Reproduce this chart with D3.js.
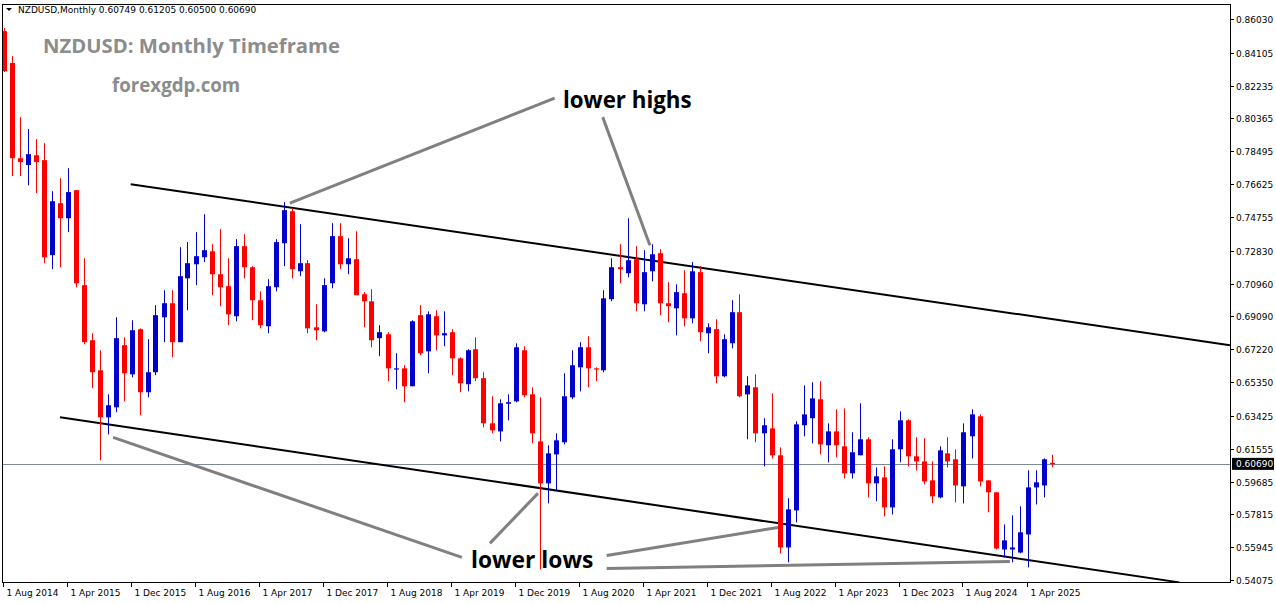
<!DOCTYPE html>
<html>
<head>
<meta charset="utf-8">
<script src="https://cdn.jsdelivr.net/npm/d3@7"></script>
<style>
  body { margin: 0; background: #fff; }
  svg { display: block; font-family: "DejaVu Sans", sans-serif; }
</style>
</head>
<body>
<div id="chart"></div>
<script>
// Monthly candles, Aug 2014 .. Jul 2025 (index 0 = Aug 2014)
const opens = [.8534,.8352,.7810,.7771,.7827,.7799,.7258,.7554,.7468,.7628,.7087,.6773,.6602,.6334,.6391,.6745,.6579,.6836,.6477,.6591,
  .6904,.6984,.6762,.7126,.7206,.7246,.7280,.7149,.7081,.6910,.7309,.7189,.7001,.6853,.7075,.7326,.7508,.7166,.7212,.6847,
  .6824,.7098,.7366,.7206,.7235,.7035,.6995,.6785,.6807,.6608,.6613,.6511,.6916,.6710,.6910,.6801,.6819,.6670,.6523,.6722,
  .6557,.6300,.6254,.6411,.6425,.6716,.6465,.6197,.5958,.6123,.6192,.6448,.6619,.6733,.6613,.6602,.7007,.7189,.7155,.7235,
  .6978,.7166,.7269,.6984,.6955,.7041,.6898,.7161,.6813,.6836,.6568,.6756,.6933,.6465,.6505,.6243,.6271,.6118,.5593,.5804,
  .6289,.6329,.6437,.6175,.6254,.6169,.6015,.6118,.6209,.5958,.5992,.5821,.6152,.6317,.6112,.6083,.5975,.5878,.6129,.6095,
  .5941,.6226,.6340,.5975,.5907,.5581,.5581,.5564,.5667,.5935,.5946,.60749];
const highs = [.8551,.8392,.8044,.7976,.7919,.7896,.7622,.7696,.7753,.7628,.7240,.6813,.6716,.6465,.6904,.6790,.6887,.6841,.6779,.6973,
  .7058,.7058,.7303,.7332,.7389,.7491,.7320,.7406,.7240,.7349,.7377,.7195,.7052,.7121,.7349,.7560,.7525,.7434,.7229,.6978,
  .7126,.7440,.7440,.7354,.7394,.7047,.7064,.6859,.6819,.6699,.6631,.6887,.6973,.6938,.6944,.6938,.6836,.6676,.6722,.6790,
  .6591,.6454,.6437,.6465,.6756,.6739,.6505,.6448,.6175,.6243,.6585,.6716,.6762,.6796,.6619,.7058,.7240,.7320,.7468,.7309,
  .7286,.7320,.7292,.7104,.7092,.7172,.7218,.7195,.6870,.6893,.6807,.7001,.7035,.6568,.6579,.6329,.6471,.6163,.5873,.6311,
  .6516,.6534,.6540,.6300,.6380,.6385,.6249,.6414,.6220,.6049,.6055,.6209,.6368,.6323,.6220,.6215,.6083,.6169,.6220,.6152,
  .6300,.6380,.6351,.5975,.5907,.5724,.5776,.5827,.6032,.6032,.6100,.61205];
const lows = [.8301,.7708,.7708,.7656,.7611,.7212,.7178,.7189,.7389,.7075,.6750,.6500,.6089,.6237,.6363,.6425,.6562,.6346,.6448,.6574,
  .6762,.6676,.6762,.6944,.7087,.7218,.7030,.6967,.6859,.6881,.7126,.6887,.6841,.6813,.7052,.7195,.7126,.7138,.6813,.6773,
  .6819,.7069,.7178,.7149,.7030,.6847,.6733,.6682,.6540,.6494,.6420,.6511,.6688,.6585,.6716,.6739,.6574,.6477,.6482,.6540,
  .6277,.6243,.6197,.6317,.6420,.6448,.6186,.5468,.5844,.5918,.6180,.6437,.6482,.6505,.6540,.6591,.6995,.7098,.7132,.6938,
  .6938,.7109,.6916,.6876,.6801,.6853,.6870,.6767,.6699,.6528,.6562,.6727,.6448,.6209,.6192,.6055,.6100,.5559,.5508,.5736,
  .6226,.6186,.6123,.6078,.6106,.5986,.5986,.6118,.5878,.5856,.5770,.5781,.6078,.6055,.6032,.5952,.5844,.5873,.6049,.5850,
  .5844,.6100,.5941,.5793,.5581,.5536,.5508,.5559,.5479,.5838,.5878,.6050];
const closes = [.8306,.7810,.7788,.7833,.7788,.7246,.7565,.7468,.7617,.7098,.6762,.6591,.6334,.6403,.6785,.6585,.6830,.6477,.6591,.6916,
  .6984,.6762,.7138,.7212,.7252,.7286,.7149,.7075,.6921,.7309,.7189,.7001,.6859,.7081,.7332,.7514,.7178,.7212,.6841,.6830,
  .7087,.7366,.7206,.7240,.7030,.6995,.6773,.6819,.6613,.6613,.6511,.6881,.6699,.6921,.6801,.6813,.6670,.6528,.6716,.6557,
  .6300,.6260,.6414,.6420,.6733,.6460,.6243,.5958,.6129,.6203,.6454,.6631,.6733,.6613,.6608,.7012,.7189,.7178,.7229,.6984,
  .7161,.7263,.6984,.6967,.7047,.6898,.7166,.6819,.6847,.6568,.6779,.6933,.6454,.6516,.6243,.6289,.6118,.5593,.5810,.6294,
  .6351,.6442,.6180,.6254,.6175,.6015,.6135,.6209,.5958,.5998,.5821,.6152,.6317,.6112,.6083,.5969,.5884,.6146,.6083,.5946,
  .6249,.6351,.5969,.5907,.5587,.5633,.5593,.5679,.5935,.5964,.6095,.6069];

const monthNames = ["Aug","Apr","Dec"];
const tickIdx = d3.range(0, 132, 8);
const tickLabels = tickIdx.map((d, k) => `1 ${monthNames[k % 3]} ${2014 + Math.floor((d + 7) / 12)}`);
const priceTicks = [0.86030,0.84105,0.82235,0.80365,0.78495,0.76625,0.74755,0.72830,0.70960,0.69090,0.67220,0.65350,0.63425,0.61555,0.59685,0.57815,0.55945,0.54075];
const lastPrice = 0.60690;

// drawn channel and annotation lines as [month index, price]
const channelLines = [
  [[15.9, 0.7662], [153.3, 0.6745]],
  [[7.06, 0.6334], [147, 0.5394]]
];
const annotationLines = [
  [[35.8, 0.7554], [68.9, 0.8152]],
  [[74.9, 0.8044], [80.8, 0.7314]],
  [[13.7, 0.6220], [57.3, 0.5536]],
  [[66.8, 0.5901], [60.8, 0.5616]],
  [[75.4, 0.5547], [96.8, 0.5707]],
  [[75.4, 0.5473], [125.8, 0.5513]]
];

const width = 1276, height = 604;
const frame = {left: 2, right: 1230, top: 4, bottom: 582};

const svg = d3.select("#chart").append("svg")
  .attr("width", width).attr("height", height);

const x = d3.scaleLinear().domain([0, 131]).range([3.5, 1051.5]);
const y = d3.scaleLinear().domain([0.54075, 0.86030]).range([580, 19]);

const plot = svg.append("g");
plot.append("defs").append("clipPath").attr("id", "clip")
  .append("rect").attr("x", frame.left).attr("y", frame.top)
  .attr("width", frame.right - frame.left).attr("height", frame.bottom - frame.top);
const inner = plot.append("g").attr("clip-path", "url(#clip)");

// current price line
inner.append("line")
  .attr("x1", frame.left).attr("x2", frame.right)
  .attr("y1", Math.round(y(lastPrice)) + 0.5).attr("y2", Math.round(y(lastPrice)) + 0.5)
  .attr("stroke", "#7d8a96").attr("stroke-width", 1);

const line = d3.line().x(d => x(d[0])).y(d => y(d[1]));

inner.selectAll(".channel").data(channelLines).join("path")
  .attr("d", line).attr("fill", "none").attr("stroke", "#000").attr("stroke-width", 2);

inner.selectAll(".annot").data(annotationLines).join("path")
  .attr("d", line).attr("fill", "none").attr("stroke", "#808080").attr("stroke-width", 3);

// candles
const candles = d3.range(opens.length).map(i => ({i, o: opens[i], h: highs[i], l: lows[i], c: closes[i]}));
const color = d => d.c >= d.o ? "#0000cc" : "#ff0000";
const g = inner.selectAll(".candle").data(candles).join("g");
g.append("line")
  .attr("x1", d => Math.round(x(d.i)) + 0.5).attr("x2", d => Math.round(x(d.i)) + 0.5)
  .attr("y1", d => y(d.h)).attr("y2", d => y(d.l))
  .attr("stroke", color).attr("stroke-width", 1);
g.append("rect")
  .attr("x", d => Math.round(x(d.i)) - 2).attr("width", 5)
  .attr("y", d => y(Math.max(d.o, d.c)))
  .attr("height", d => Math.max(1.2, Math.abs(y(d.o) - y(d.c))))
  .attr("fill", color);

// frame
svg.append("rect")
  .attr("x", frame.left + 0.5).attr("y", frame.top + 0.5)
  .attr("width", frame.right - frame.left).attr("height", frame.bottom - frame.top)
  .attr("fill", "none").attr("stroke", "#000");

// right price axis
const yAxis = svg.append("g");
priceTicks.forEach(p => {
  const yy = Math.round(y(p)) + 0.5;
  yAxis.append("line").attr("x1", frame.right).attr("x2", frame.right + 4)
    .attr("y1", yy).attr("y2", yy).attr("stroke", "#000");
  yAxis.append("text").attr("x", frame.right + 6).attr("y", yy + 3.5)
    .attr("font-size", 9).attr("fill", "#000").text(p.toFixed(5));
});
const ly = y(lastPrice);
yAxis.append("rect").attr("x", frame.right + 2).attr("y", ly - 6)
  .attr("width", 42).attr("height", 12).attr("fill", "#000");
yAxis.append("text").attr("x", frame.right + 6).attr("y", ly + 3.5)
  .attr("font-size", 9).attr("fill", "#fff").text(lastPrice.toFixed(5));

// bottom time axis
const xAxis = svg.append("g");
tickIdx.forEach((d, k) => {
  const xx = Math.round(x(d)) - 0.5;
  xAxis.append("line").attr("x1", xx).attr("x2", xx)
    .attr("y1", frame.bottom).attr("y2", frame.bottom + 5).attr("stroke", "#000");
  xAxis.append("text").attr("x", xx + 3).attr("y", frame.bottom + 14)
    .attr("font-size", 9).attr("fill", "#000").text(tickLabels[k]);
});

// header and annotations
svg.append("path").attr("d", "M6,8 L12,8 L9,11 Z").attr("fill", "#000");
svg.append("text").attr("x", 18).attr("y", 13).attr("font-size", 9)
  .text("NZDUSD,Monthly  0.60749 0.61205 0.60500 0.60690");

svg.append("text").attr("x", 43).attr("y", 53)
  .attr("font-family", "Open Sans, sans-serif").attr("font-weight", "bold")
  .attr("font-size", 20.3).attr("fill", "#8c8c8c").text("NZDUSD: Monthly Timeframe");
svg.append("text").attr("x", 112).attr("y", 92)
  .attr("font-family", "Open Sans, sans-serif").attr("font-weight", "bold")
  .attr("font-size", 18.7).attr("fill", "#8c8c8c").text("forexgdp.com");

svg.append("text").attr("x", 563).attr("y", 108)
  .attr("font-family", "Open Sans, sans-serif").attr("font-weight", "bold")
  .attr("font-size", 22.3).attr("fill", "#000").text("lower highs");
svg.append("text").attr("x", 471).attr("y", 568)
  .attr("font-family", "Open Sans, sans-serif").attr("font-weight", "bold")
  .attr("font-size", 22.8).attr("fill", "#000").text("lower lows");
</script>
</body>
</html>
